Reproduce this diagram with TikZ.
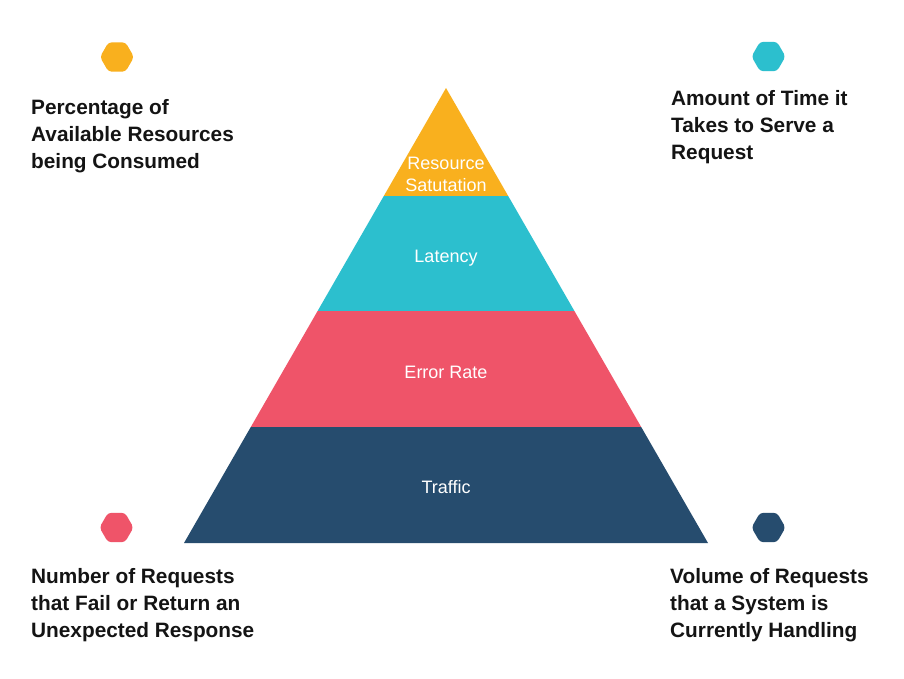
\documentclass[tikz,border=0pt]{standalone}
\usepackage{fontspec}
\setmainfont{Liberation Sans}
\usetikzlibrary{calc}
\definecolor{cyel}{HTML}{F9B01E}
\definecolor{cteal}{HTML}{2CBFCE}
\definecolor{cred}{HTML}{EF5469}
\definecolor{cnavy}{HTML}{264C6E}
\definecolor{ctext}{HTML}{141414}
\tikzset{
  desc/.style={anchor=base west, align=left, inner sep=0pt, text=ctext,
    font=\bfseries\fontsize{20.8}{27}\selectfont},
  lyr/.style={anchor=base, align=center, inner sep=0pt, text=white,
    font=\fontsize{18}{22}\selectfont},
  hexa/.style={rounded corners=3.5pt}
}
\newcommand\myhex[3]{\fill[hexa,#3] (#1+17,#2) -- ++(120:17) -- ++(180:17) -- ++(240:17) -- ++(300:17) -- ++(0:17) -- cycle;}
\begin{document}
\begin{tikzpicture}[x=1pt,y=-1pt]
\useasboundingbox (0,0) rectangle (904,678);
\fill[white] (0,0) rectangle (904,678);
% pyramid coordinates
\coordinate (apex) at (446,88);
\coordinate (l1) at (383.8,196); \coordinate (r1) at (508.2,196);
\coordinate (l2) at (317.6,311); \coordinate (r2) at (574.4,311);
\coordinate (l3) at (250.8,427); \coordinate (r3) at (641.2,427);
\coordinate (l4) at (184,543);   \coordinate (r4) at (708,543);
\fill[cyel] (apex) -- (r1) -- (l1) -- cycle;
\fill[cteal] (l1) -- (r1) -- (r2) -- (l2) -- cycle;
\fill[cred] (l2) -- (r2) -- (r3) -- (l3) -- cycle;
\fill[cnavy] (l3) -- (r3) -- (r4) -- (l4) -- cycle;
% layer labels (base = last line)
\node[lyr] (rs) at (446,191) {Resource\\Satutation};
\node[lyr] (lat) at (446,262) {Latency};
\node[lyr] (err) at (446,378) {Error Rate};
\node[lyr] (trf) at (446,493) {Traffic};
% hexagons
\myhex{117}{57}{cyel}
\myhex{768.5}{56.5}{cteal}
\myhex{116.5}{527.5}{cred}
\myhex{768.5}{527.5}{cnavy}
% descriptions (base = last line)
\node[desc] (d1) at (31,168) {Percentage of\\Available Resources\\being Consumed};
\node[desc] (d2) at (671,159) {Amount of Time it\\Takes to Serve a\\Request};
\node[desc] (d3) at (31,637) {Number of Requests\\that Fail or Return an\\Unexpected Response};
\node[desc] (d4) at (670,637) {Volume of Requests\\that a System is\\Currently Handling};
\end{tikzpicture}
\end{document}
